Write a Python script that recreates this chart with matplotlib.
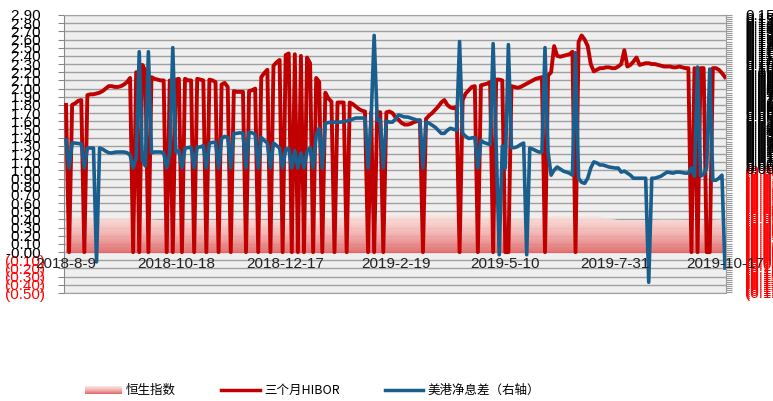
import numpy as np
import matplotlib
matplotlib.use('Agg')
import matplotlib.pyplot as plt
from matplotlib.lines import Line2D
from matplotlib.colors import LinearSegmentedColormap

# ---------------- data ----------------
hibor = [1.80, 0, 1.80, 1.82, 1.85, 1.86, 0, 1.92, 1.93, 1.93,
         1.94, 1.95, 1.97, 2.00, 2.03, 2.03, 2.02, 2.02, 2.03, 2.05,
         2.08, 2.13, 0, 2.20, 0, 2.29, 2.22, 0, 2.14, 2.12,
         2.11, 2.10, 2.10, 0, 2.10, 0, 2.11, 2.12, 0, 2.12,
         2.10, 2.10, 0, 2.12, 2.11, 2.10, 0, 2.11, 2.10, 2.08,
         0, 2.05, 2.07, 2.02, 0, 1.97, 1.96, 1.96, 1.96, 0,
         1.97, 1.98, 2.00, 0, 2.14, 2.19, 2.23, 0, 2.28, 2.32,
         2.35, 0, 2.41, 2.43, 0, 2.42, 0, 2.40, 0, 2.38,
         2.31, 0, 2.13, 2.08, 0, 1.95, 1.88, 1.84, 0, 1.83,
         1.83, 1.83, 0, 1.83, 1.81, 1.78, 1.75, 1.73, 1.72, 0,
         1.71, 0, 1.71, 1.71, 0, 1.71, 1.72, 1.70, 1.65, 1.62,
         1.58, 1.56, 1.56, 1.57, 1.59, 1.60, 1.61, 0, 1.63, 1.67,
         1.70, 1.74, 1.78, 1.83, 1.86, 1.80, 1.77, 1.76, 1.78, 0,
         1.86, 1.94, 1.98, 2.02, 2.03, 0, 2.04, 2.05, 2.06, 2.08,
         0, 2.11, 2.11, 2.10, 0, 0, 2.03, 2.02, 2.01, 2.02,
         2.04, 2.06, 2.08, 2.10, 2.12, 2.13, 2.14, 0, 2.16, 2.20,
         2.52, 2.40, 2.39, 2.40, 2.41, 2.42, 2.45, 0, 2.57, 2.65,
         2.60, 2.52, 2.30, 2.21, 2.23, 2.25, 2.25, 2.26, 2.26, 2.25,
         2.25, 2.27, 2.30, 2.47, 2.27, 2.29, 2.33, 2.38, 2.29, 2.30,
         2.31, 2.31, 2.30, 2.30, 2.29, 2.28, 2.27, 2.27, 2.27, 2.26,
         2.26, 2.27, 2.26, 2.25, 2.25, 0, 2.25, 0, 2.25, 2.25,
         0, 0, 2.25, 2.25, 2.23, 2.19, 2.14]

spread = [0.0275, 0, 0.0245, 0.0245, 0.0240, 0.0240, 0, 0.0196, 0.0196, 0.0196,
          -0.092, 0.0196, 0.0185, 0.0165, 0.0150, 0.0147, 0.0155, 0.0157, 0.0157, 0.0157,
          0.0150, 0.0127, 0, 0.0100, 0.114, 0.0080, 0.0020, 0.114, 0.0150, 0.0157,
          0.0157, 0.0157, 0.0150, 0, 0.0157, 0.118, 0.0157, 0.0170, 0, 0.0196,
          0.0200, 0.0206, 0, 0.0206, 0.0206, 0.0220, 0, 0.0245, 0.0250, 0.0255,
          0, 0.0290, 0.0310, 0.0300, 0, 0.0340, 0.0340, 0.0345, 0.0340, 0,
          0.0350, 0.0345, 0.0330, 0, 0.0300, 0.0270, 0.0245, 0, 0.0245, 0.0220,
          0.0196, 0, 0.0185, 0.0190, 0, 0.0170, 0, 0.0150, 0, 0.0160,
          0.0200, 0, 0.0320, 0.0390, 0, 0.0440, 0.0445, 0.0450, 0.0450, 0.0450,
          0.0450, 0.0455, 0.0460, 0.0470, 0.0480, 0.0490, 0.0490, 0.0490, 0.0490, 0,
          0.0480, 0.130, 0.0470, 0.0470, 0, 0.0460, 0.0450, 0.0450, 0.0480, 0.0520,
          0.0510, 0.0500, 0.0500, 0.0490, 0.0480, 0.0470, 0.0470, 0, 0.0450, 0.0440,
          0.0420, 0.0400, 0.0370, 0.0340, 0.0340, 0.0370, 0.0390, 0.0380, 0.0370, 0.124,
          0.0340, 0.0310, 0.0290, 0.0295, 0.0300, 0, 0.0270, 0.0250, 0.0240, 0.0230,
          0.122, 0.0216, -0.085, 0.0216, 0, 0.121, 0.0200, 0.0200, 0.0210, 0.0230,
          0.0245, -0.085, 0.0196, 0.0185, 0.0170, 0.0157, 0.0157, 0.118, 0.0157, -0.0070,
          -0.0020, 0.0010, -0.0010, -0.0030, -0.0040, -0.0050, -0.0070, 0.113, -0.0100, -0.0140,
          -0.0150, -0.0100, 0.0000, 0.0060, 0.0050, 0.0030, 0.0030, 0.0020, 0.0010, 0.0005,
          0.0000, 0.0000, -0.0040, -0.0030, -0.0050, -0.0070, -0.0100, -0.0100, -0.0100, -0.0100,
          -0.0100, -0.112, -0.0100, -0.0100, -0.0090, -0.0080, -0.0060, -0.0040, -0.0045, -0.0050,
          -0.0040, -0.0040, -0.0045, -0.0050, -0.0050, 0.0, -0.0080, 0.099, -0.0080, -0.0060,
          0.0, 0.097, -0.0120, -0.0120, -0.0100, -0.0070, -0.098]

hsi = [28600, 27800, 27200, 27500, 26600, 25500, 25400, 26100, 26500, 26500,
       25500, 26500, 27100, 27900, 28600, 28800, 29000, 29900, 29900, 29900,
       27900, 26900, 27300, 28600, 28400, 28400, 26100, 26000, 26500, 26400,
       26000, 26800]

date_labels = ['2018-8-9', '2018-10-18', '2018-12-17', '2019-2-19',
               '2019-5-10', '2019-7-31', '2019-10-17']
legend_labels = ['恒生指数', '三个月HIBOR', '美港净息差（右轴）']

# ---------------- style ----------------
RED = '#C00000'
BLUE = '#1A5E8E'
LABEL_RED = '#FF0000'
GRID = '#A0A0A0'
TICKFONT = 'Liberation Sans'
CJK = ['Noto Sans CJK SC', 'DejaVu Sans']

W, H = 773, 401
fig = plt.figure(figsize=(W / 100, H / 100), dpi=100)
fig.patch.set_facecolor('white')
pos = [64 / W, 1 - 293 / H, (726 - 64) / W, (293 - 15) / H]

n = len(hibor)
x = np.arange(n)
xlim = (-0.66, n - 1 + 0.33)

# main axes: left scale, grid, background
ax = fig.add_axes(pos)
ax.set_facecolor('#EFEFEF')
ax.set_xlim(xlim)
ax.set_ylim(-0.5, 2.9)
yt = np.round(np.arange(-0.5, 2.9001, 0.1), 2)
ax.set_yticks(yt)
ax.set_yticklabels([f'{v:.2f} ' if v >= 0 else f'({-v:.2f})' for v in yt],
                   fontsize=11, family=TICKFONT)
for lab, v in zip(ax.get_yticklabels(), yt):
    lab.set_color('#000000' if v >= 0 else LABEL_RED)
ax.tick_params(axis='y', length=4, color='#888888', pad=10)
ax.set_xticks([])
ax.grid(axis='y', color=GRID, lw=1.0)
ax.set_axisbelow(True)
for s in ax.spines.values():
    s.set_color(GRID)
ax.spines['left'].set_color('#888888')

# HSI area on hidden axis
axh = fig.add_axes(pos, sharex=ax)
axh.patch.set_visible(False)
axh.axis('off')
xh = np.linspace(0, n - 1, len(hsi))
base = 6400
poly = axh.fill_between(xh, base, hsi, color='none', lw=0)
cmap = LinearSegmentedColormap.from_list('hsi', ['#E06666', '#F3B3B0', '#FCEAE5'])
grad = np.linspace(0, 1, 256).reshape(-1, 1)
im = axh.imshow(grad, extent=[xlim[0], xlim[1], base, max(hsi)], origin='lower',
                aspect='auto', cmap=cmap, alpha=0.92, zorder=1)
im.set_clip_path(poly.get_paths()[0], axh.transData)
axh.set_xlim(xlim)
axh.set_ylim(-17600, 149200)

# HIBOR line (left scale)
axr = fig.add_axes(pos, sharex=ax)
axr.patch.set_visible(False)
axr.axis('off')
axr.plot(x, hibor, color=RED, lw=2.8, solid_joinstyle='round')
axr.set_xlim(xlim)
axr.set_ylim(-0.5, 2.9)

# spread line (right scale)
axb = fig.add_axes(pos, sharex=ax)
axb.patch.set_visible(False)
axb.plot(x, spread, color=BLUE, lw=2.6, solid_joinstyle='round')
axb.set_xlim(xlim)
axb.set_ylim(-0.1225, 0.15)
axb.yaxis.tick_right()
rt = np.round(np.arange(-0.122, 0.15001, 0.002), 3)
axb.set_yticks(rt)
axb.set_yticklabels([f'{v:.2f}' if v >= 0 else f'({-v:.2f})' for v in rt],
                    fontsize=11, family=TICKFONT)
for lab, v in zip(axb.get_yticklabels(), rt):
    lab.set_color('#000000' if v >= 0 else LABEL_RED)
axb.tick_params(axis='y', length=4, width=0.8, color='#999999', pad=10)
axb.set_xticks([])
for s in axb.spines.values():
    s.set_visible(False)

# category labels
step = (n - 1) // (len(date_labels) - 1)
for k, lab in enumerate(date_labels):
    axb.text(k * step, -0.15, lab, transform=ax.transData, ha='center', va='center',
             fontsize=11, family=TICKFONT, color='#222222', clip_on=False, zorder=5)

# legend
ly = 1 - 390 / H
pax = fig.add_axes([85 / W, 1 - 394 / H, 37 / W, 8 / H])
pax.imshow(grad, origin='lower', aspect='auto', cmap=cmap)
pax.axis('off')
fig.text(126 / W, ly, legend_labels[0], fontsize=9, family=CJK, va='center', ha='left')
fig.add_artist(Line2D([221 / W, 260 / W], [ly, ly], transform=fig.transFigure,
                      color=RED, lw=2.5))
fig.text(264 / W, ly, legend_labels[1], fontsize=9, family=CJK, va='center', ha='left')
fig.add_artist(Line2D([385 / W, 423 / W], [ly, ly], transform=fig.transFigure,
                      color=BLUE, lw=2.5))
fig.text(427 / W, ly, legend_labels[2], fontsize=9, family=CJK, va='center', ha='left')

fig.savefig('out.png', dpi=100)
